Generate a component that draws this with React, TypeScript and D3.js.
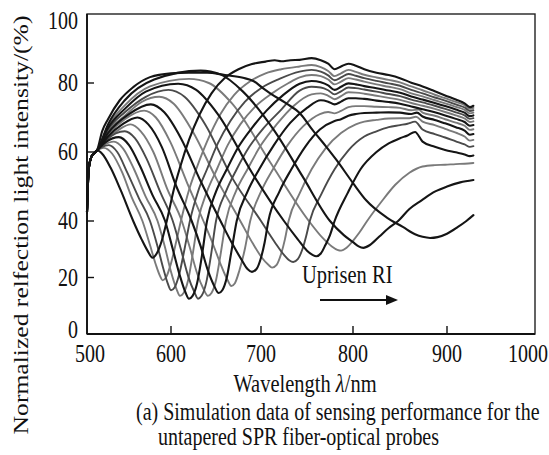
import React from 'react';
import * as d3 from 'd3';

type Pt = [number, number];

// Axis ticks
const xTickValues = [500, 600, 700, 800, 900, 1000];
const yTickValues = [0, 20, 40, 60, 80, 100];

// Reflection spectra: [wavelength nm, normalized intensity %], one array per refractive index
const sharedStart: Pt[] = [[500, 42.5], [502, 55], [505, 58.5], [508, 59.5], [512, 60.5]];

const curve01: Pt[] = [...sharedStart, [518, 59.5], [528, 55.5], [540, 49], [555, 40], [565, 33.5], [572, 29.5], [578, 27], [583, 28.5], [589, 33], [595, 40], [603, 49], [610, 55.5], [620, 63.5], [632, 71], [645, 77], [660, 81.5], [675, 84], [690, 85.5], [705, 86.2], [715, 86.6], [722, 86.3], [732, 86.6], [742, 86.7], [755, 87.2], [765, 86.6], [773, 85.6], [780, 84], [787, 84.8], [795, 85.6], [803, 85], [812, 84], [825, 83], [838, 82.3], [850, 81.4], [862, 80.1], [874, 79], [887, 77.6], [898, 76.4], [910, 75.2], [920, 74.1], [926, 73], [930, 73.4]];

const curve02: Pt[] = [...sharedStart, [516, 61], [520, 61.2], [530, 59.5], [542, 54], [553, 47], [566, 40], [575, 31.5], [582, 24.5], [587, 20.5], [590, 19], [594, 20], [600, 25], [606, 33], [611, 40], [620, 49], [628, 55], [640, 63], [655, 71], [670, 76.5], [688, 80.5], [705, 82.8], [722, 84], [742, 84.8], [755, 85.2], [765, 84.6], [773, 83.5], [780, 82], [787, 82.8], [795, 83.8], [803, 83.2], [812, 82.4], [825, 81.6], [838, 80.9], [850, 80.2], [862, 79], [874, 77.9], [887, 76.6], [898, 75.6], [910, 74.5], [920, 73.6], [926, 72.5], [930, 72.8]];

const curve03: Pt[] = [...sharedStart, [518, 61.5], [526, 62], [536, 60], [548, 54], [562, 46.5], [575, 40], [584, 31], [591, 23], [596, 18], [600, 15.5], [604, 16.5], [609, 21], [615, 30], [621, 40], [630, 48.5], [640, 55], [652, 62.5], [666, 69], [682, 74.5], [700, 78.5], [720, 81.2], [742, 83.3], [755, 83.8], [765, 83.3], [773, 82.2], [780, 80.8], [787, 81.6], [795, 82.6], [803, 82.1], [812, 81.4], [825, 80.6], [838, 79.9], [850, 79.2], [862, 78], [874, 77], [887, 75.8], [898, 74.9], [910, 73.8], [920, 72.9], [926, 71.9], [930, 72.1]];

const curve04: Pt[] = [...sharedStart, [520, 62], [532, 63], [543, 61], [556, 55], [570, 47], [584, 40], [593, 30.5], [600, 22], [606, 16], [610, 13.5], [614, 14.5], [619, 19], [624, 28], [630, 40], [640, 48.5], [651, 55], [663, 62], [677, 68], [693, 73], [712, 77], [730, 80], [742, 81.6], [755, 82.3], [765, 82], [773, 81], [780, 79.6], [787, 80.4], [795, 81.4], [803, 81], [812, 80.4], [825, 79.6], [838, 78.9], [850, 78.2], [862, 77], [874, 76.1], [887, 75], [898, 74.1], [910, 73.1], [920, 72.2], [926, 71.2], [930, 71.4]];

const curve05: Pt[] = [...sharedStart, [522, 62.8], [538, 64.3], [550, 62], [563, 56], [578, 47.5], [593, 40], [602, 30], [610, 20.5], [616, 14.8], [620, 12.5], [624, 13.5], [629, 18], [634, 27], [640, 40], [650, 48.5], [662, 55], [675, 61.5], [690, 67], [706, 72], [724, 76.5], [742, 79.8], [755, 80.6], [765, 80.2], [773, 79.3], [780, 78], [787, 78.9], [795, 79.9], [803, 79.6], [812, 79.1], [825, 78.5], [838, 77.8], [850, 77.2], [862, 76.1], [874, 75.2], [887, 74.2], [898, 73.3], [910, 72.3], [920, 71.4], [926, 70.4], [930, 70.6]];

const curve06: Pt[] = [...sharedStart, [523, 63.5], [545, 66], [557, 64], [571, 58], [587, 48.5], [602, 40], [611, 30], [619, 20.5], [626, 14.8], [630, 12.5], [634, 13.5], [639, 18], [644, 27], [650, 40], [661, 48.5], [673, 55], [687, 61.5], [703, 67], [721, 72], [742, 77.8], [755, 78.9], [765, 78.7], [773, 77.9], [780, 76.7], [787, 77.6], [795, 78.7], [803, 78.5], [812, 78.1], [825, 77.5], [838, 76.8], [850, 76.2], [862, 75.2], [874, 74.4], [887, 73.4], [898, 72.5], [910, 71.5], [920, 70.6], [926, 69.6], [930, 69.8]];

const curve07: Pt[] = [...sharedStart, [525, 64], [538, 66.5], [552, 68], [564, 66], [579, 60], [596, 49], [612, 40], [621, 30.5], [629, 21.5], [636, 16], [641, 13.5], [645, 14.5], [650, 19], [655, 28], [661, 40], [672, 48.5], [685, 55], [700, 62], [717, 68], [736, 73.5], [755, 76.7], [765, 77], [773, 76.3], [780, 75.3], [787, 76.2], [795, 77.3], [803, 77.2], [812, 76.9], [825, 76.3], [838, 75.7], [850, 75.1], [862, 74.2], [874, 73.4], [887, 72.5], [898, 71.6], [910, 70.6], [920, 69.7], [926, 68.7], [930, 68.9]];

const curve08: Pt[] = [...sharedStart, [525, 64.5], [542, 68], [560, 70], [573, 68], [589, 61.5], [606, 50], [623, 40], [633, 31], [641, 22.5], [648, 17], [653, 14.5], [657, 15.5], [662, 20], [667, 29], [673, 40], [685, 48.5], [698, 55], [714, 62], [732, 68.5], [750, 72.8], [765, 75], [773, 74.6], [780, 73.8], [787, 74.6], [795, 75.6], [803, 75.6], [812, 75.4], [825, 74.9], [838, 74.5], [850, 74], [862, 73.2], [874, 72.4], [887, 71.5], [898, 70.6], [910, 69.6], [920, 68.7], [926, 67.6], [930, 67.8]];

const curve09: Pt[] = [...sharedStart, [525, 65], [545, 69.5], [568, 72], [582, 70], [599, 63], [618, 51], [636, 40], [647, 31.5], [656, 24], [663, 19], [667, 17], [671, 18], [676, 22.5], [682, 30], [688, 40], [700, 48.5], [713, 55], [729, 62], [746, 67.5], [764, 71], [773, 71.6], [780, 71.2], [787, 71.9], [795, 73], [803, 73.3], [812, 73.3], [825, 73.1], [838, 73], [850, 72.8], [862, 72.1], [870, 72.3], [874, 71.4], [887, 70.5], [898, 69.5], [910, 68.5], [920, 67.6], [926, 66.4], [930, 66.6]];

const curve10: Pt[] = [...sharedStart, [525, 65.5], [550, 71], [576, 73.8], [592, 71.5], [611, 64], [633, 51.5], [655, 40], [668, 32], [678, 26.5], [685, 23], [690, 22], [695, 23], [700, 27], [704, 32.5], [708, 40], [720, 48.5], [733, 55], [748, 61.5], [764, 66.5], [780, 69], [787, 69.5], [795, 70.5], [803, 71], [812, 71.3], [825, 71.4], [838, 71.5], [850, 71.4], [862, 71], [868, 71.4], [874, 70.3], [887, 69.3], [898, 68.3], [910, 67.2], [920, 66.2], [926, 65], [930, 65.2]];

const curve11: Pt[] = [...sharedStart, [525, 66], [545, 70.5], [565, 74.5], [586, 76], [603, 74], [624, 66], [651, 52], [677, 40], [691, 32], [701, 27], [708, 24.5], [712, 23.5], [717, 24.5], [722, 28.5], [726, 33.5], [730, 40], [742, 48], [755, 55], [770, 61], [787, 65.5], [803, 68], [812, 68.8], [825, 69.3], [838, 69.7], [850, 69.8], [860, 69.8], [867, 70.2], [874, 68.8], [887, 67.8], [898, 66.7], [910, 65.6], [920, 64.5], [926, 63.3], [930, 63.5]];

const curve12: Pt[] = [...sharedStart, [525, 66.5], [545, 71.5], [570, 76], [597, 78], [615, 76], [638, 68], [668, 52.5], [700, 40], [715, 32.5], [725, 28], [731, 26], [735, 25.5], [740, 26.5], [745, 30], [749, 34.5], [753, 40], [766, 48], [780, 55], [795, 60.5], [812, 64.5], [825, 66], [838, 67.2], [850, 67.8], [858, 68.2], [866, 68.8], [874, 66.5], [887, 65.2], [898, 64.2], [910, 63.1], [920, 62.2], [926, 61.5], [930, 61.7]];

const curve13: Pt[] = [...sharedStart, [525, 67], [545, 72.5], [570, 77.5], [608, 79.8], [628, 78], [652, 71], [690, 54], [725, 40], [740, 33.5], [750, 29.5], [756, 28], [760, 27.5], [765, 28.5], [770, 31.5], [775, 35], [780, 40], [794, 48], [808, 55], [825, 60], [838, 62.5], [850, 64], [858, 64.8], [866, 65.8], [874, 63], [887, 61.5], [898, 60.6], [910, 59.9], [920, 59.3], [926, 58.8], [930, 59]];

const curve14: Pt[] = [...sharedStart, [525, 67.5], [545, 73.5], [575, 79], [620, 81.2], [642, 80], [668, 74], [710, 57], [752, 40], [767, 34], [777, 31], [783, 29.8], [787, 29.5], [793, 30.5], [800, 33], [807, 36], [815, 40], [830, 45.5], [845, 50.5], [860, 54], [874, 55.8], [887, 56.2], [898, 56.3], [910, 56.5], [920, 56.6], [930, 56.8]];

const curve15: Pt[] = [...sharedStart, [525, 68], [545, 75], [580, 81], [633, 83.6], [655, 82.5], [680, 77.5], [715, 66], [745, 53], [775, 40], [790, 35], [800, 32.5], [806, 31], [811, 30.5], [818, 31.5], [828, 34.5], [838, 37.5], [848, 40], [860, 43.5], [873, 46], [887, 48.5], [900, 50], [915, 51.2], [930, 51.9]];

const curve16: Pt[] = [...sharedStart, [518, 66], [525, 69.5], [539, 75], [555, 78.8], [575, 81.7], [600, 82.8], [620, 83], [640, 83], [660, 82.3], [680, 81.5], [692, 80.5], [702, 78.5], [710, 77], [728, 74], [742, 71.3], [756, 66.4], [771, 61.5], [782, 57.7], [800, 51], [814, 46], [836, 41], [853, 37.9], [866, 35.3], [874, 34.4], [882, 34], [890, 34.3], [900, 35.5], [912, 37.8], [922, 40], [930, 41.7]];

const spectra: Pt[][] = [curve01, curve02, curve03, curve04, curve05, curve06, curve07, curve08, curve09, curve10, curve11, curve12, curve13, curve14, curve15, curve16];

// Stroke tone of each spectrum (0 = black, 1 = dark grey, 2 = mid grey)
const spectrumTone = [0, 2, 1, 2, 0, 1, 2, 0, 2, 0, 2, 1, 0, 2, 0, 0];
const toneColor = ['#151515', '#4a4a4a', '#7a7a7a'];
const toneWidth = [2.1, 1.9, 1.9];

const FONT = "'Liberation Serif', 'Times New Roman', Times, serif";
const STRETCH = 1.25;

export default function App() {
  const width = 549;
  const height = 455;
  const left = 87;
  const right = 535;
  const top = 14;
  const bottom = 334;

  // calibrated axes (tick positions are not evenly spaced on the page)
  const x = d3.scaleLinear().domain([500, 600, 700, 800, 900, 1000]).range([left, 171, 261, 353, 447, right]);
  const y = d3.scaleLinear().domain([0, 40, 100]).range([bottom, 221, top]);

  const line = d3
    .line<Pt>()
    .x((d) => x(d[0]))
    .y((d) => y(d[1]))
    .curve(d3.curveMonotoneX);

  const order = spectra.map((_, i) => i).sort((a, b) => spectrumTone[b] - spectrumTone[a]);

  const stretched = (tx: number, ty: number) => `translate(${tx},${ty}) scale(1,${STRETCH})`;

  return (
    <svg
      width={width}
      height={height}
      style={{ position: 'absolute', left: 0, top: 0, background: '#fff' }}
      fontFamily={FONT}
    >
      <rect x={0} y={0} width={width} height={height} fill="#fff" />

      <g fill="none" strokeLinejoin="round" strokeLinecap="round">
        {order.map((i) => (
          <path
            key={i}
            d={line(spectra[i]) || ''}
            stroke={toneColor[spectrumTone[i]]}
            strokeWidth={toneWidth[spectrumTone[i]]}
          />
        ))}
      </g>

      {/* frame */}
      <rect x={left} y={top} width={right - left} height={bottom - top} fill="none" stroke="#222" strokeWidth={1.4} />
      <line x1={left} x2={right} y1={bottom} y2={bottom} stroke="#111" strokeWidth={2} />
      <line x1={left} x2={left} y1={top} y2={bottom} stroke="#111" strokeWidth={1.8} />

      {/* x ticks */}
      {xTickValues.map((v) => (
        <g key={`x${v}`}>
          {v !== 500 && v !== 1000 && (
            <line x1={x(v)} x2={x(v)} y1={bottom} y2={bottom - 8} stroke="#111" strokeWidth={1.4} />
          )}
          <text
            transform={stretched(Math.min(x(v) + (v === 500 ? 3 : 0), width - 21), 362)}
            textAnchor="middle"
            fontSize={20}
            fill="#111"
          >
            {v}
          </text>
        </g>
      ))}

      {/* y ticks */}
      {yTickValues.map((v) => (
        <g key={`y${v}`}>
          {v !== 0 && v !== 100 && (
            <line x1={left} x2={left + 7} y1={y(v)} y2={y(v)} stroke="#111" strokeWidth={1.4} />
          )}
          <text
            transform={stretched(78, Math.min(Math.max(y(v), top + 7) + 8, bottom + 4))}
            textAnchor="end"
            fontSize={20}
            fill="#111"
          >
            {v}
          </text>
        </g>
      ))}

      {/* axis titles */}
      <text transform={stretched(305, 392)} textAnchor="middle" fontSize={20.5} fill="#111">
        Wavelength <tspan fontStyle="italic">λ</tspan>/nm
      </text>
      <text
        transform={`translate(28,225) rotate(-90) scale(${STRETCH},1)`}
        textAnchor="middle"
        fontSize={20.5}
        fill="#111"
      >
        Normalized relfection light intensity/(%)
      </text>

      {/* annotation */}
      <text transform={stretched(302, 283)} fontSize={20.5} fill="#111">
        Uprisen RI
      </text>
      <line x1={320} x2={388} y1={300} y2={300} stroke="#111" strokeWidth={2} />
      <path d="M386,295 L398,300 L386,305 Z" fill="#111" />

      {/* caption */}
      <text transform={stretched(136, 420)} fontSize={20} fill="#111">
        (a) Simulation data of sensing performance for the
      </text>
      <text transform={stretched(158, 445)} fontSize={20} fill="#111">
        untapered SPR fiber-optical probes
      </text>
    </svg>
  );
}
